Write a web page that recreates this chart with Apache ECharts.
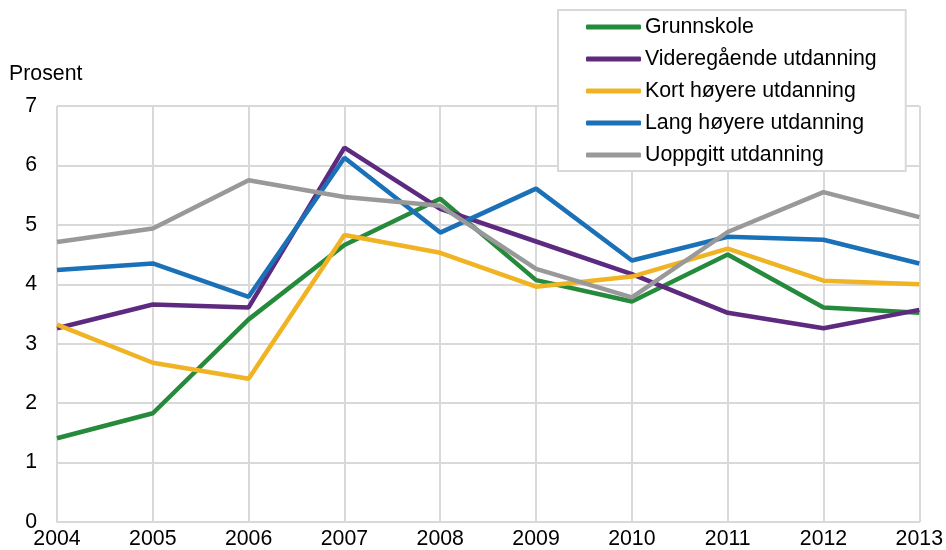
<!DOCTYPE html>
<html>
<head>
<meta charset="utf-8">
<script src="https://cdn.jsdelivr.net/npm/echarts@6/dist/echarts.min.js"></script>
<style>html,body{margin:0;padding:0;background:#fff}#c{width:946px;height:550px}</style>
</head>
<body>
<div id="c"></div>
<script>
var years = ['2004','2005','2006','2007','2008','2009','2010','2011','2012','2013'];
var grunnskole = [1.41, 1.83, 3.41, 4.66, 5.44, 4.07, 3.71, 4.50, 3.61, 3.52];
var videregaende = [3.26, 3.66, 3.61, 6.30, 5.27, 4.72, 4.17, 3.52, 3.26, 3.57];
var kortHoyere = [3.32, 2.68, 2.41, 4.83, 4.53, 3.96, 4.13, 4.60, 4.06, 4.00];
var langHoyere = [4.24, 4.35, 3.79, 6.13, 4.87, 5.61, 4.40, 4.80, 4.75, 4.35];
var uoppgitt = [4.71, 4.94, 5.75, 5.47, 5.32, 4.26, 3.78, 4.88, 5.55, 5.13];
var names = ['Grunnskole','Videregående utdanning','Kort høyere utdanning','Lang høyere utdanning','Uoppgitt utdanning'];
var colors = ['#268a3d','#5e2a80','#f0b323','#1a71b8','#999999'];
var yTicks = [0,1,2,3,4,5,6,7];

var FONT = 'Liberation Sans, Arial, sans-serif';
var FS = 21.3;
var chart = echarts.init(document.getElementById('c'));
var dataSets = [grunnskole, videregaende, kortHoyere, langHoyere, uoppgitt];
chart.setOption({
  animation: false,
  textStyle: {fontFamily: FONT},
  title: {text: 'Prosent', left: 9, top: 64, padding: 0,
    textStyle: {fontSize: FS, fontWeight: 'normal', color: '#000', fontFamily: FONT}},
  grid: {left: 57, right: 25, top: 106, bottom: 27, containLabel: false},
  legend: {
    orient: 'vertical', left: 558, top: 10,
    data: names,
    icon: 'roundRect', itemWidth: 55, itemHeight: 5, itemGap: 10,
    backgroundColor: '#fff', borderColor: '#d9d9d9', borderWidth: 2,
    padding: [6, 29, 5, 28],
    textStyle: {fontSize: FS, color: '#000', lineHeight: 22, padding: [0,0,0,-1], fontFamily: FONT},
    z: 10
  },
  xAxis: {
    type: 'category', data: years, boundaryGap: false,
    axisLine: {show: true, lineStyle: {color: '#d9d9d9', width: 2}},
    axisTick: {show: false},
    axisLabel: {color: '#000', fontSize: FS, margin: 7, interval: 0, fontFamily: FONT},
    splitLine: {show: true, lineStyle: {color: '#d9d9d9', width: 2}}
  },
  yAxis: {
    type: 'value', min: 0, max: 7, interval: 1,
    axisLine: {show: false}, axisTick: {show: false},
    axisLabel: {color: '#000', fontSize: FS, margin: 20, fontFamily: FONT,
      formatter: function(v){return String(v);}},
    splitLine: {show: true, lineStyle: {color: '#d9d9d9', width: 2}}
  },
  series: dataSets.map(function(d, i){
    return {
      name: names[i], type: 'line', data: d, showSymbol: false, symbol: 'none',
      lineStyle: {color: colors[i], width: 4.5}, itemStyle: {color: colors[i]},
      z: 2 + i
    };
  })
});
</script>
</body>
</html>
